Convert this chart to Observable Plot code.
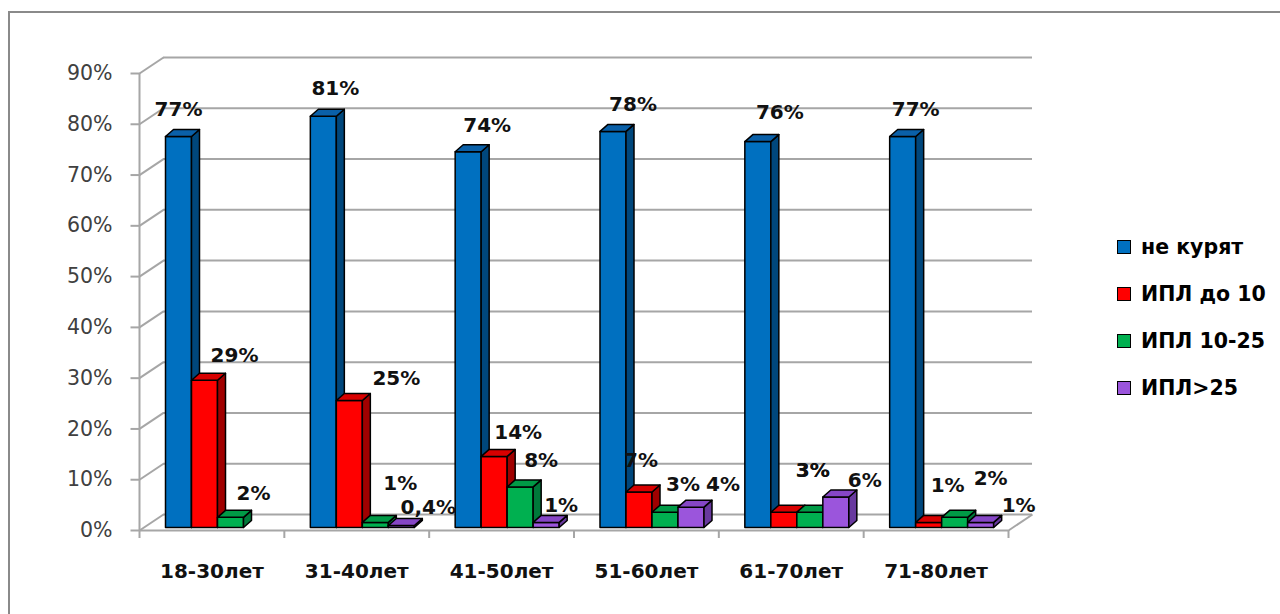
<!DOCTYPE html>
<html>
<head>
<meta charset="utf-8">
<script src="https://cdn.jsdelivr.net/npm/d3@7"></script>
<script src="https://cdn.jsdelivr.net/npm/@observablehq/plot@0.6"></script>
<style>
  html, body { margin: 0; padding: 0; background: #fff; overflow: hidden; }
  body { width: 1280px; height: 614px; position: relative; font-family: "DejaVu Sans", sans-serif; }
  #frame { position: absolute; left: 8px; top: 11px; width: 1400px; height: 800px; border: 2px solid #8a8a8a; pointer-events: none; }
  #chart { position: absolute; left: 0; top: 0; }
  #legend { position: absolute; left: 1117px; top: 224px; }
  #legend .row { display: flex; align-items: center; height: 46.8px; font-weight: bold; font-size: 20.5px; color: #000; }
  #legend .sw { width: 12px; height: 12px; border: 1.5px solid #000; margin-right: 10px; }
</style>
</head>
<body>
<div id="chart"></div>
<div id="legend"></div>
<div id="frame"></div>
<script>
// Age groups and smoking index (ИПЛ) shares, percent
const categories = ["18-30лет", "31-40лет", "41-50лет", "51-60лет", "61-70лет", "71-80лет"];
const series = ["не курят", "ИПЛ до 10", "ИПЛ 10-25", "ИПЛ>25"];
const nonSmokers = [77, 81, 74, 78, 76, 77];
const iplUpTo10 = [29, 25, 14, 7, 3, 1];
const ipl10to25 = [2, 1, 8, 3, 3, 2];
const iplOver25 = [null, 0.4, 1, 4, 6, 1];
const yTicks = [0, 10, 20, 30, 40, 50, 60, 70, 80, 90];

const values = [nonSmokers, iplUpTo10, ipl10to25, iplOver25];

// face colours per series: front, side, top
const palette = [
  {front: "#0070C0", side: "#00477C", top: "#0A60A8"},
  {front: "#FF0000", side: "#A00000", top: "#D80000"},
  {front: "#00B050", side: "#00793A", top: "#009A46"},
  {front: "#9B55DC", side: "#68399E", top: "#8646C6"}
];

// layout
const W = 1280, H = 614;
const mL = 139, mR = 272, mT = 73, mB = 84;
const pxX = (W - mL - mR) / categories.length;   // px per category unit
const pxY = (H - mT - mB) / 90;                  // px per percent
const wallDX = 24 / pxX, wallDY = 16 / pxY;      // depth of back wall
const barDX = 8 / pxX, barDY = 7 / pxY;          // depth of each column
const barW = 26 / pxX, lead = 26 / pxX;          // column width and group inset
const lift = -3;                                 // columns stand slightly behind the front edge

// label nudges (px) relative to top centre of a column's front face
const defaultNudge = [20, -26];
const nudges = {
  "0-0": [0, -27], "0-1": [30, -25], "0-2": [23, -24],
  "1-0": [12, -28], "1-1": [47, -22], "1-2": [25, -39], "1-3": [27, -18],
  "2-0": [19, -26], "2-1": [24, -24], "2-2": [21, -26], "2-3": [15, -17],
  "3-0": [20, -27], "3-1": [2, -31], "3-2": [18, -28], "3-3": [32, -23],
  "4-0": [22, -29], "4-1": [29, -42], "4-2": [3, -42], "4-3": [29, -16],
  "5-0": [13, -27], "5-1": [19, -37], "5-2": [36, -39], "5-3": [38, -17]
};

const fmt = v => String(v).replace(".", ",") + "%";

// build column faces as closed polygons, drawn group by group, left to right
const faces = [];
const labels = [];
let id = 0;
categories.forEach((cat, ci) => {
  series.forEach((s, si) => {
    const v = values[si][ci];
    if (v == null) return;
    const x0 = ci + lead + si * barW, x1 = x0 + barW;
    const c = palette[si];
    const polys = [
      [c.front, [[x0, 0], [x1, 0], [x1, v], [x0, v], [x0, 0]]],
      [c.side, [[x1, 0], [x1 + barDX, barDY], [x1 + barDX, v + barDY], [x1, v], [x1, 0]]],
      [c.top, [[x0, v], [x0 + barDX, v + barDY], [x1 + barDX, v + barDY], [x1, v], [x0, v]]]
    ];
    for (const [color, pts] of polys) {
      const k = id++;
      for (const [x, y] of pts) faces.push({id: k, x, y, color});
    }
    const [ndx, ndy] = nudges[`${ci}-${si}`] || defaultNudge;
    labels.push({
      x: (x0 + x1) / 2 + ndx / pxX,
      y: v - (ndy + lift) / pxY,
      text: fmt(v)
    });
  });
});

const gridColor = "#a6a6a6";
const boundaries = d3.range(categories.length + 1);

const chart = Plot.plot({
  width: W,
  height: H,
  marginLeft: mL,
  marginRight: mR,
  marginTop: mT,
  marginBottom: mB,
  style: {fontFamily: "DejaVu Sans, sans-serif", background: "transparent", color: "#404040", overflow: "visible"},
  x: {domain: [0, categories.length], axis: null},
  y: {domain: [0, 90]},
  color: {type: "identity"},
  marks: [
    // back wall gridlines and side wall diagonals
    Plot.ruleY(yTicks, {y: d => d + wallDY, x1: wallDX, x2: categories.length + wallDX, stroke: gridColor, strokeWidth: 2}),
    Plot.link(yTicks, {x1: 0, y1: d => d, x2: wallDX, y2: d => d + wallDY, stroke: gridColor, strokeWidth: 2}),
    // floor front edge and right corner
    Plot.ruleY([0], {x1: 0, x2: categories.length, stroke: gridColor, strokeWidth: 2}),
    Plot.link([0], {x1: categories.length, y1: 0, x2: categories.length + wallDX, y2: wallDY, stroke: gridColor, strokeWidth: 2}),
    // value axis line and ticks
    Plot.ruleX([0], {y1: 0, y2: 90, stroke: gridColor, strokeWidth: 2}),
    Plot.link(yTicks, {x1: -9 / pxX, y1: d => d, x2: 0, y2: d => d, stroke: gridColor, strokeWidth: 2}),
    Plot.axisY({ticks: yTicks, tickFormat: d => d + "%", tickSize: 0, tickPadding: 27, fontSize: 20.5, label: null}),
    // category boundary ticks
    Plot.ruleX(boundaries, {y1: 0, y2: -8 / pxY, stroke: gridColor, strokeWidth: 2}),
    // columns
    Plot.line(faces, {x: "x", y: "y", z: "id", fill: "color", stroke: "#000", strokeWidth: 1.5, strokeLinejoin: "round", dy: lift}),
    // value labels
    Plot.text(labels, {x: "x", y: "y", text: "text", fontSize: 20, fontWeight: "bold", fill: "#111"}),
    // category labels
    Plot.text(categories, {x: (d, i) => i + 0.5, y: 0, dy: 41, text: d => d, fontSize: 20, fontWeight: "bold", fill: "#111"})
  ]
});
document.getElementById("chart").appendChild(chart);

// legend
const legend = document.getElementById("legend");
series.forEach((s, i) => {
  const row = document.createElement("div");
  row.className = "row";
  const sw = document.createElement("span");
  sw.className = "sw";
  sw.style.background = palette[i].front;
  const t = document.createElement("span");
  t.textContent = s;
  row.appendChild(sw);
  row.appendChild(t);
  legend.appendChild(row);
});
</script>
</body>
</html>
